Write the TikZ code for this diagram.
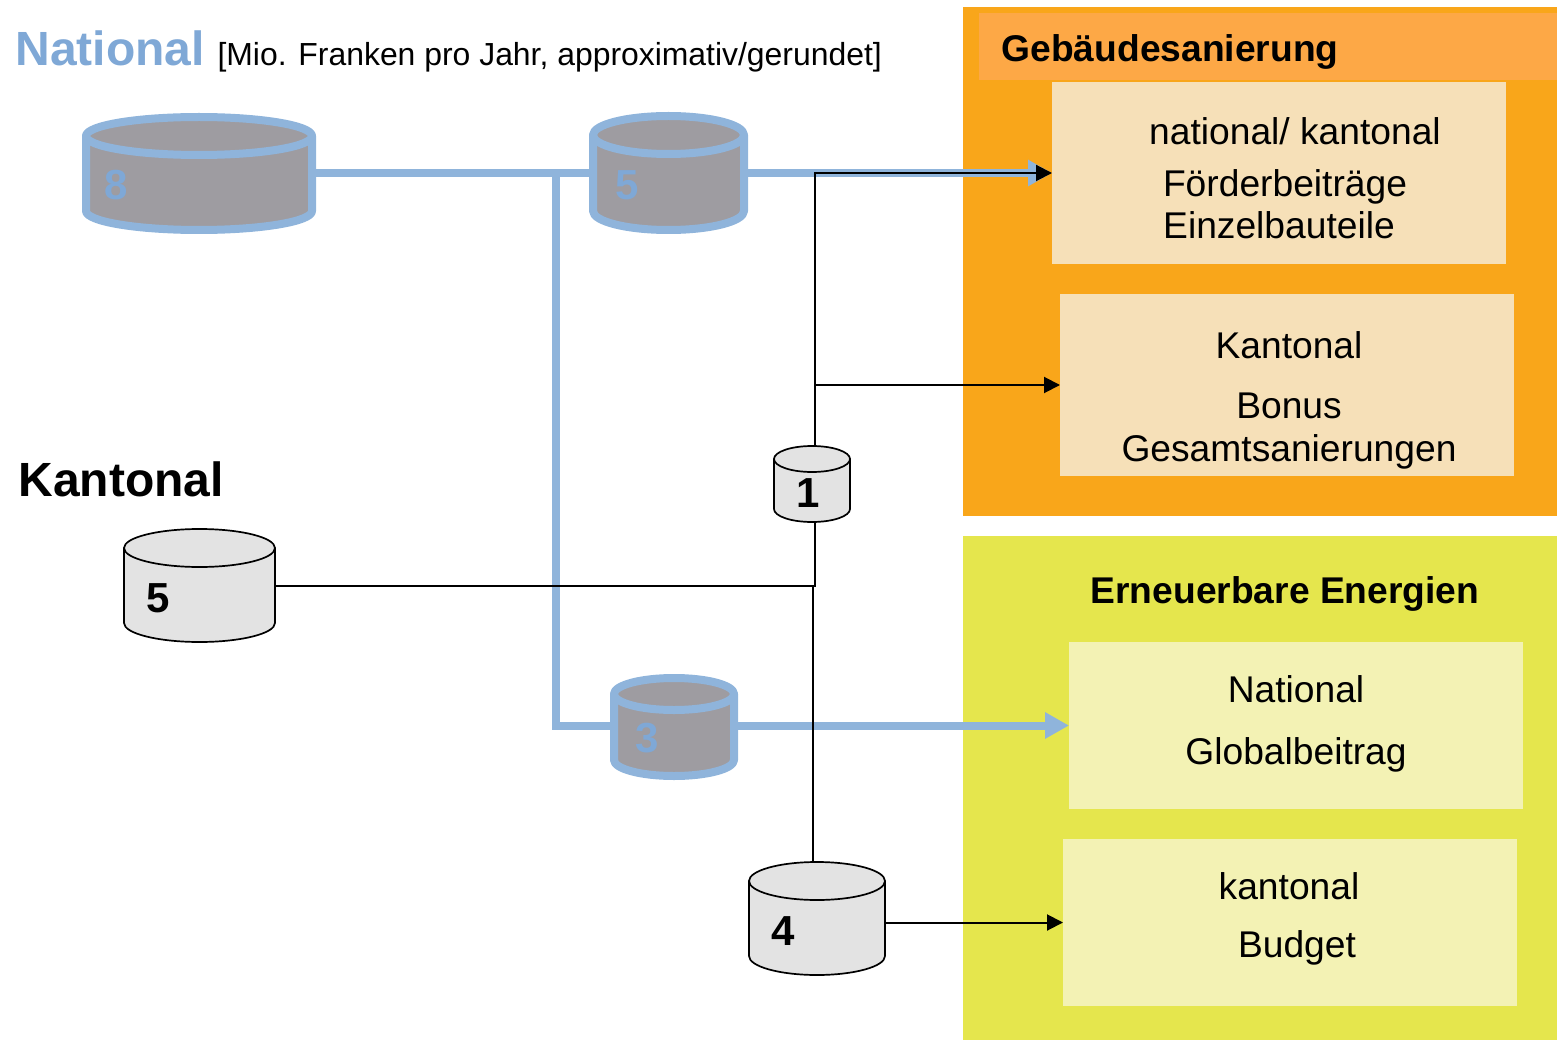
\documentclass[tikz,border=0pt]{standalone}
\usepackage{fontspec}
\setmainfont{Liberation Sans}
\usetikzlibrary{arrows.meta}
\definecolor{fundblue}{HTML}{8FB4DB}
\definecolor{digitblue}{HTML}{7FA8D6}
\definecolor{fundgrey}{HTML}{9E9CA1}
\definecolor{tankgrey}{HTML}{E3E3E3}
\definecolor{orangebg}{HTML}{F9A61A}
\definecolor{orangehead}{HTML}{FDA846}
\definecolor{orangebox}{HTML}{F6E0B8}
\definecolor{greenbg}{HTML}{E5E64D}
\definecolor{greenbox}{HTML}{F3F2B4}
\tikzset{
  bluetank/.style={draw=fundblue,line width=8pt,fill=fundgrey,line join=round},
  greytank/.style={draw=black,line width=1.7pt,fill=tankgrey,line join=round},
  panel/.style={rectangle,inner sep=0pt,outer sep=0pt,anchor=north west},
  bluedigit/.style={anchor=base,text=digitblue,font=\bfseries\fontsize{42}{46}\selectfont},
  greydigit/.style={anchor=base,font=\bfseries\fontsize{42}{46}\selectfont},
  boxtext/.style={anchor=base,font=\fontsize{37.2}{41}\selectfont},
  headtext/.style={anchor=base,font=\bfseries\fontsize{37.2}{41}\selectfont},
  bluepipe/.style={draw=fundblue,line width=8pt},
  blackpipe/.style={draw=black,line width=2pt},
  bluearrow/.style={bluepipe,-{Triangle[length=24pt,width=25pt]}},
  blackarrow/.style={blackpipe,-{Triangle[length=16pt,width=16pt]}}
}
% name, style, x, y, half width, half height, cap radius
\newcommand{\tank}[7]{
  \draw[#2] (#3-#5,#4-#6+#7) -- (#3-#5,#4+#6-#7) arc[start angle=180,end angle=0,x radius=#5,y radius=#7] -- (#3+#5,#4-#6+#7) -- cycle;
  \draw[#2] (#3,#4-#6+#7) ellipse[x radius=#5,y radius=#7];
  \node[inner sep=0pt,outer sep=0pt,minimum width=2*#5 pt,minimum height=2*#6 pt] (#1) at (#3,#4) {};
}
\begin{document}
\begin{tikzpicture}[x=1pt,y=-1pt]
\useasboundingbox (0,0) rectangle (1557,1040);
\node[panel,fill=orangebg,minimum width=594pt,minimum height=509pt] (gebaeude) at (963,7) {};
\node[panel,fill=orangehead,minimum width=578pt,minimum height=67pt] (gebaeudehead) at (979,13) {};
\node[panel,fill=greenbg,minimum width=594pt,minimum height=504pt] (erneuerbar) at (963,536) {};
\node[panel,fill=orangebox,minimum width=454pt,minimum height=182pt] (foerder) at (1052,82) {};
\node[panel,fill=orangebox,minimum width=454pt,minimum height=182pt] (bonus) at (1060,294) {};
\node[panel,fill=greenbox,minimum width=454pt,minimum height=167pt] (global) at (1069,642) {};
\node[panel,fill=greenbox,minimum width=454pt,minimum height=167pt] (budget) at (1063,839) {};

\tank{nat8}{bluetank}{199}{173.5}{113}{56.5}{19}
\tank{nat5}{bluetank}{668.5}{173}{75.5}{57}{19}
\tank{nat3}{bluetank}{674}{727}{60}{49}{16}
\tank{kant1}{greytank}{812}{484}{38}{38}{13}
\tank{kant5}{greytank}{199.5}{585.5}{75.5}{56.5}{19}
\tank{kant4}{greytank}{817}{918.5}{68}{56.5}{19}

\coordinate (split) at (556,173);
\coordinate (merge) at (815,585.5);
\coordinate (lower) at (813,585.5);
\draw[bluepipe] (nat8.east |- split) -- (nat5.west |- split);
\draw[bluepipe] (split) -- (split |- global.west) -- (nat3.west |- global.west);
\draw[bluearrow] (nat5.east |- foerder.west) -- (foerder.west);
\draw[bluearrow] (nat3.east |- global.west) -- (global.west);
\draw[blackarrow] (kant1.north -| merge) -- (merge |- foerder.west) -- (foerder.west);
\draw[blackarrow] (merge |- bonus.west) -- (bonus.west);
\draw[blackpipe] (kant5.east |- merge) -- (merge) -- (kant1.south -| merge);
\draw[blackpipe] (lower) -- (kant4.north -| lower);
\draw[blackarrow] (kant4.east |- budget.west) -- (budget.west);

\node[bluedigit] (num8) at (116,200) {8};
\node[bluedigit] (num5) at (627,200) {5};
\node[bluedigit] (num3) at (647,752) {3};
\node[greydigit] (num1) at (808,507) {1};
\node[greydigit] (numk5) at (158,612) {5};
\node[greydigit] (num4) at (783,945) {4};

\node[anchor=base west,text=digitblue,font=\bfseries\fontsize{48}{52}\selectfont] (national) at (12,66) {National};
\node[anchor=base west,font=\fontsize{31.9}{36}\selectfont] (unit) at (214,66) {[Mio. Franken pro Jahr, approximativ/gerundet]};
\node[anchor=base west,font=\bfseries\fontsize{48}{52}\selectfont] (kantonal) at (15,496) {Kantonal};

\node[headtext,anchor=base west] (head1) at (998,62) {Gebäudesanierung};
\node[boxtext] (t1) at (1295,144.5) {national/ kantonal};
\node[boxtext] (t2) at (1285,196.5) {Förderbeiträge};
\node[boxtext] (t3) at (1279,238.5) {Einzelbauteile};
\node[boxtext] (t4) at (1289,358) {Kantonal};
\node[boxtext] (t5) at (1289,418) {Bonus};
\node[boxtext] (t6) at (1289,461) {Gesamtsanierungen};
\node[headtext] (head2) at (1285,603) {Erneuerbare Energien};
\node[boxtext] (t7) at (1296,702) {National};
\node[boxtext] (t8) at (1296,764) {Globalbeitrag};
\node[boxtext] (t9) at (1289,899) {kantonal};
\node[boxtext] (t10) at (1297,957) {Budget};
\end{tikzpicture}
\end{document}
